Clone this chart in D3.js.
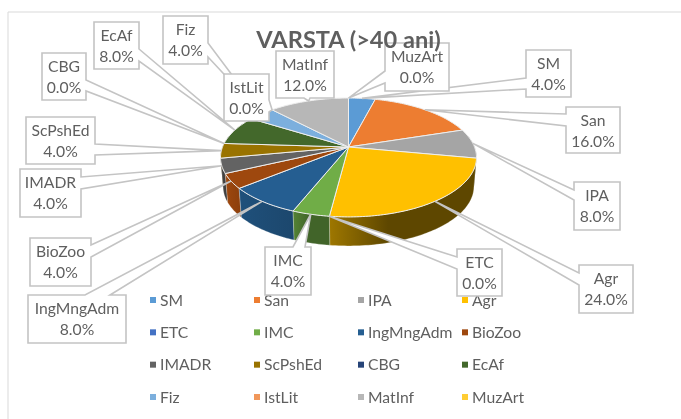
<!DOCTYPE html>
<html>
<head>
<meta charset="utf-8">
<script src="https://cdn.jsdelivr.net/npm/d3@7"></script>
<style>
html, body { margin: 0; padding: 0; background: #fff; }
svg { display: block; filter: blur(0.55px); }
text { font-family: Lato, "Open Sans", sans-serif; fill: #5f5f5f; }
</style>
</head>
<body>
<div id="chart"></div>
<script>
//Datos
const categories = ['SM', 'San', 'IPA', 'Agr', 'ETC', 'IMC', 'IngMngAdm', 'BioZoo', 'IMADR', 'ScPshEd', 'CBG', 'EcAf', 'Fiz', 'IstLit', 'MatInf', 'MuzArt'];
const values = [4, 16, 8, 24, 0, 4, 8, 4, 4, 4, 0, 8, 4, 0, 12, 0];
const title = 'VARSTA (>40 ani)';

//Colores
const colors = ['#5b9bd5', '#ed7d31', '#a5a5a5', '#ffc000', '#4472c4', '#70ad47', '#255e91', '#9e480e', '#636363', '#997300', '#264478', '#43682b', '#7cafdd', '#f1975a', '#b7b7b7', '#ffcd33'];
const BOX_GREY = '#c4c4c4', FRAME_GREY = '#d9d9d9';

//Cajas de las etiquetas: rect + lado y tramo donde nace la cuña
const boxes = {
    SM:        {x: 526, y: 50,  w: 45, h: 47, side: 'left',   a: 78,  b: 89},
    San:       {x: 566, y: 107, w: 54, h: 46, side: 'left',   a: 114, b: 126},
    IPA:       {x: 574, y: 182, w: 46, h: 48, side: 'left',   a: 190, b: 200},
    Agr:       {x: 579, y: 265, w: 54, h: 48, side: 'left',   a: 273, b: 285},
    ETC:       {x: 457, y: 249, w: 45, h: 47, side: 'left',   a: 257, b: 269},
    IMC:       {x: 265, y: 247, w: 46, h: 48, side: 'top',    a: 293, b: 305},
    IngMngAdm: {x: 28,  y: 295, w: 98, h: 48, side: 'top',    a: 85,  b: 110},
    BioZoo:    {x: 30,  y: 238, w: 61, h: 48, side: 'right',  a: 245, b: 257},
    IMADR:     {x: 20,  y: 169, w: 61, h: 48, side: 'right',  a: 177, b: 189},
    ScPshEd:   {x: 26,  y: 117, w: 69, h: 47, side: 'right',  a: 144, b: 155},
    CBG:       {x: 42,  y: 53,  w: 44, h: 47, side: 'right',  a: 80,  b: 91},
    EcAf:      {x: 94,  y: 22,  w: 45, h: 47, side: 'right',  a: 49,  b: 61},
    Fiz:       {x: 163, y: 16,  w: 45, h: 48, side: 'right',  a: 43,  b: 57},
    IstLit:    {x: 224, y: 74,  w: 45, h: 47, side: 'right',  a: 100, b: 112},
    MatInf:    {x: 276, y: 51,  w: 58, h: 47, side: 'bottom', a: 304, b: 310},
    MuzArt:    {x: 385, y: 43,  w: 64, h: 48, side: 'left',   a: 71,  b: 83}
};

//Orden de pintado de las cajas
const boxOrder = ['Fiz', 'EcAf', 'CBG', 'ScPshEd', 'IMADR', 'BioZoo', 'IngMngAdm', 'IMC', 'ETC', 'Agr', 'IPA', 'San', 'SM', 'MuzArt', 'MatInf', 'IstLit'];

//Sombra de la pared: factor izquierda, factor derecha y punto de cambio
const wallShade = {
    Agr: [0.62, 0.37, 0.4],
    IMC: [0.75, 0.58, 0.45],
    IngMngAdm: [0.85, 0.75, 1],
    BioZoo: [1, 0.88, 1]
};

const width = 681, height = 419;

//Perspectiva de la tarta
const CX = 348.5, CY = 147, RX = 126, RY = 57.6, K = 0.176, DEPTH = 29, BOTTOM_SCALE = 0.98;

function project(angle, r, dy) {
    let X = r * Math.sin(angle), Y = -r * Math.cos(angle), w = 1 - K * Y;
    let sx = dy ? BOTTOM_SCALE : 1;
    return [CX + sx * RX * X / w, CY + RY * Y / w + (dy || 0)];
}

function arcPoints(a0, a1, dy) {
    let n = Math.max(2, Math.ceil((a1 - a0) / 0.02)), pts = [];
    for (let i = 0; i <= n; i++) {
        pts.push(project(a0 + (a1 - a0) * i / n, 1, dy));
    }
    return pts;
}

let svg = d3.select('#chart')
    .append('svg')
    .attr('width', width)
    .attr('height', height);

let defs = svg.append('defs');

svg.append('rect').attr('width', width).attr('height', height).attr('fill', '#fff');

//Marco
svg.append('path')
    .attr('d', 'M8,419V12H681')
    .attr('fill', 'none')
    .attr('stroke', FRAME_GREY)
    .attr('stroke-width', 1);

//Leyenda
let legendX = d3.scaleBand().domain([0, 1, 2, 3]).range([150, 566]);
let legendY = d3.scalePoint().domain([0, 1, 2, 3]).range([300, 397]);

let legend = svg.append('g').selectAll('g')
    .data(categories)
    .enter()
    .append('g')
    .attr('transform', function(d, i) { return 'translate(' + legendX(i % 4) + ',' + legendY(Math.floor(i / 4)) + ')'; });

legend.append('rect')
    .attr('x', 0).attr('y', -3)
    .attr('width', 6).attr('height', 6)
    .attr('fill', function(d, i) { return colors[i]; });

legend.append('text')
    .attr('x', 10)
    .attr('y', 5.5)
    .attr('font-size', 15.7)
    .text(function(d) { return d; });

//Tarta
let pie = d3.pie().sort(null).value(function(d) { return d; });
let arcs = pie(values);
let line = d3.line();

function shade(color, f) {
    let c = d3.rgb(color);
    return d3.rgb(c.r * f, c.g * f, c.b * f).formatHex();
}

//Paredes, de atrás hacia delante
let walls = arcs
    .map(function(d, i) { return {d: d, i: i}; })
    .filter(function(e) { return e.d.endAngle > e.d.startAngle; })
    .filter(function(e) { return e.d.endAngle > Math.PI / 2 - 0.1 && e.d.startAngle < 3 * Math.PI / 2 + 0.1; })
    .sort(function(a, b) {
        let ya = -Math.cos((a.d.startAngle + a.d.endAngle) / 2);
        let yb = -Math.cos((b.d.startAngle + b.d.endAngle) / 2);
        return ya - yb;
    });

walls.forEach(function(e) {
    let top = arcPoints(e.d.startAngle, e.d.endAngle, 0);
    let bottom = arcPoints(e.d.startAngle, e.d.endAngle, DEPTH).reverse();
    let pts = top.concat(bottom);
    let name = categories[e.i];
    let f = wallShade[name] || [0.72, 0.6, 1];
    let extent = d3.extent(pts, function(p) { return p[0]; });
    let id = 'wall' + e.i;
    let grad = defs.append('linearGradient')
        .attr('id', id)
        .attr('gradientUnits', 'userSpaceOnUse')
        .attr('x1', extent[0]).attr('x2', extent[1])
        .attr('y1', 0).attr('y2', 0);
    grad.append('stop').attr('offset', 0).attr('stop-color', shade(colors[e.i], f[0]));
    grad.append('stop').attr('offset', f[2]).attr('stop-color', shade(colors[e.i], f[1]));
    svg.append('path')
        .attr('d', line(pts) + 'Z')
        .attr('fill', 'url(#' + id + ')')
        .attr('stroke', '#fff')
        .attr('stroke-opacity', 0.3)
        .attr('stroke-width', 0.8);
});

//Cara superior
svg.append('g').selectAll('path')
    .data(arcs)
    .enter()
    .append('path')
    .attr('d', function(d) {
        return line([[CX, CY]].concat(arcPoints(d.startAngle, d.endAngle, 0))) + 'Z';
    })
    .attr('fill', function(d, i) { return colors[i]; })
    .attr('stroke', '#eeeeee')
    .attr('stroke-width', function(d) { return d.value > 0 ? 1 : 0; })
    .attr('stroke-linejoin', 'round');

//Etiquetas con cuña hasta el punto medio del borde
function calloutPath(b, tip) {
    let p = d3.path(), r = b.x + b.w, s = b.y + b.h;
    p.moveTo(b.x, b.y);
    if (b.side === 'top') { p.lineTo(b.a, b.y); p.lineTo(tip[0], tip[1]); p.lineTo(b.b, b.y); }
    p.lineTo(r, b.y);
    if (b.side === 'right') { p.lineTo(r, b.a); p.lineTo(tip[0], tip[1]); p.lineTo(r, b.b); }
    p.lineTo(r, s);
    if (b.side === 'bottom') { p.lineTo(b.b, s); p.lineTo(tip[0], tip[1]); p.lineTo(b.a, s); }
    p.lineTo(b.x, s);
    if (b.side === 'left') { p.lineTo(b.x, b.b); p.lineTo(tip[0], tip[1]); p.lineTo(b.x, b.a); }
    p.closePath();
    return p.toString();
}

let pct = d3.format('.1f');

boxOrder.forEach(function(name) {
    let i = categories.indexOf(name), b = boxes[name], d = arcs[i];
    let tip = project((d.startAngle + d.endAngle) / 2, 1, 0);
    let g = svg.append('g');
    g.append('path')
        .attr('d', calloutPath(b, tip))
        .attr('fill', '#fff')
        .attr('stroke', BOX_GREY)
        .attr('stroke-width', 1.6);
    g.append('text')
        .attr('x', b.x + b.w / 2)
        .attr('y', b.y + 19)
        .attr('text-anchor', 'middle')
        .attr('font-size', 15.7)
        .text(name);
    g.append('text')
        .attr('x', b.x + b.w / 2)
        .attr('y', b.y + 40)
        .attr('text-anchor', 'middle')
        .attr('font-size', 15.7)
        .text(pct(values[i]) + '%');
});

//Título
svg.append('text')
    .attr('x', 348.5)
    .attr('y', 48)
    .attr('text-anchor', 'middle')
    .attr('font-size', 23.6)
    .attr('font-weight', 700)
    .text(title);
</script>
</body>
</html>
